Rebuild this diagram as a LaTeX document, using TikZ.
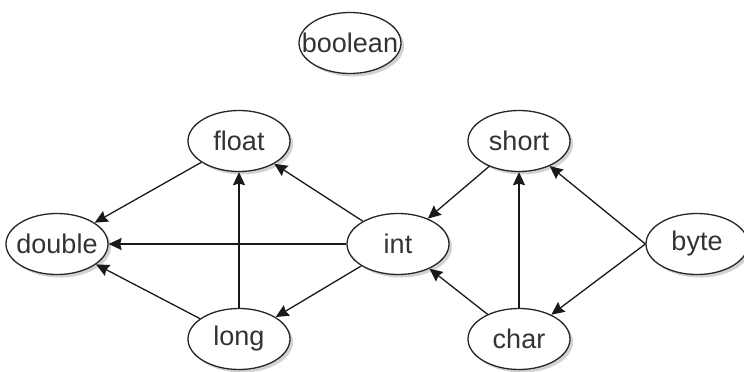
\documentclass[tikz,border=0pt]{standalone}
\usepackage{fontspec}
\setmainfont{Liberation Sans}
\usetikzlibrary{shapes.geometric,arrows.meta,shadows}
\begin{document}
\begin{tikzpicture}[x=1pt,y=-1pt,
  typ/.style={ellipse,draw=black!85,line width=1.3pt,minimum width=102pt,minimum height=61pt,
    inner sep=0pt,fill=white,font=\fontsize{27}{31}\selectfont,text=black!80,
    drop shadow={shadow xshift=3pt,shadow yshift=-3pt,fill=black!35,opacity=0.5}},
  conv/.style={line width=1.3pt,draw=black!90,-{Stealth[length=13pt,width=12pt,inset=1.5pt]}}]
\useasboundingbox (0,0) rectangle (744,372);
\node[typ] (boolean) at (350,43) {\makebox[0pt]{boolean}};
\node[typ] (float) at (239,141) {\makebox[0pt]{float}};
\node[typ] (short) at (519,141) {\makebox[0pt]{short}};
\node[typ] (double) at (57,244) {\makebox[0pt]{double}};
\node[typ] (int) at (398,244) {\makebox[0pt]{int}};
\node[typ] (byte) at (697,244) {\makebox[0pt]{byte}};
\node[typ] (long) at (239,339) {\makebox[0pt]{long}};
\node[typ] (char) at (519,339) {\makebox[0pt]{char}};
\draw[conv] (float) -- (double);
\draw[conv] (int) -- (float);
\draw[conv] (int) -- (double);
\draw[conv] (int) -- (long);
\draw[conv] (long) -- (float);
\draw[conv] (long) -- (double);
\draw[conv] (short) -- (int);
\draw[conv] (char) -- (int);
\draw[conv] (char) -- (short);
\draw[conv] (byte.west) -- (short);
\draw[conv] (byte.west) -- (char);
\end{tikzpicture}
\end{document}
